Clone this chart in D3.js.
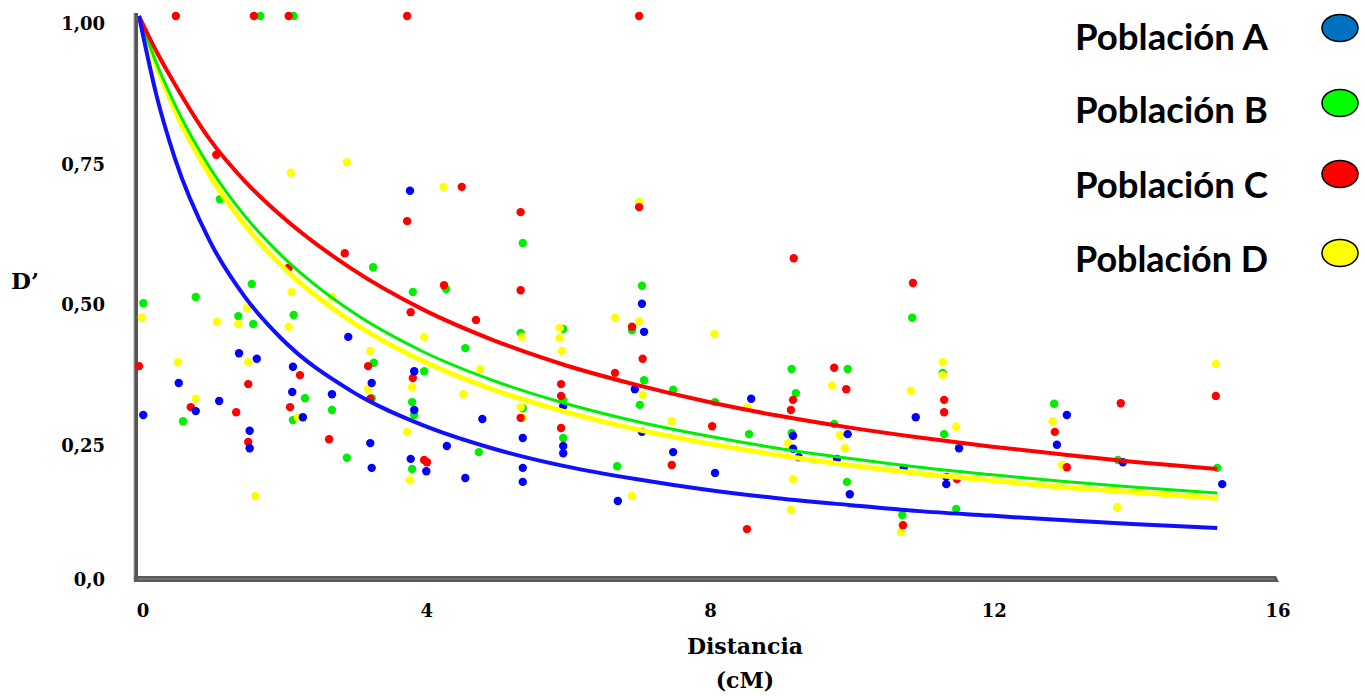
<!DOCTYPE html>
<html>
<head>
<meta charset="utf-8">
<script src="https://cdn.jsdelivr.net/npm/d3@7"></script>
<style>
html,body{margin:0;padding:0;background:#fff;}
svg{display:block;}
</style>
</head>
<body>
<svg id="chart" width="1365" height="696"></svg>
<script>
// ---- data ----
const xTicks = [0, 4, 8, 12, 16];
const xTickLabels = ["0", "4", "8", "12", "16"];
const yTicks = [0, 0.25, 0.5, 0.75, 1];
const yTickLabels = ["0,0", "0,25", "0,50", "0,75", "1,00"];
const seriesNames = ["Población A", "Población B", "Población C", "Población D"];

// [distance cM, D']
const pointsA = [[3.82,0.689],[1.41,0.400],[1.66,0.390],[2.17,0.376],[0.56,0.347],[2.16,0.331],[0.80,0.297],[1.13,0.315],[2.31,0.286],[0.06,0.290],[1.56,0.262],[1.56,0.231],[2.95,0.429],[2.72,0.327],[7.09,0.488],[7.12,0.438],[3.28,0.347],[3.88,0.368],[3.88,0.299],[4.84,0.283],[5.41,0.249],[5.98,0.306],[5.98,0.235],[5.98,0.222],[6.99,0.336],[7.09,0.260],[7.53,0.224],[3.26,0.240],[3.28,0.196],[3.83,0.212],[4.05,0.190],[4.34,0.235],[4.60,0.178],[5.41,0.196],[5.41,0.171],[6.75,0.137],[10.95,0.286],[8.63,0.319],[8.12,0.187],[9.22,0.253],[9.22,0.230],[9.30,0.215],[9.99,0.256],[9.84,0.212],[10.02,0.149],[10.78,0.196],[11.56,0.231],[11.38,0.180],[11.38,0.167],[12.94,0.237],[13.08,0.290],[13.87,0.206],[15.27,0.167]];
const pointsB = [[1.71,1.0],[2.18,1.0],[1.14,0.674],[0.06,0.489],[0.80,0.500],[1.59,0.523],[1.40,0.466],[1.61,0.452],[2.18,0.468],[2.17,0.281],[0.62,0.279],[2.34,0.320],[2.72,0.299],[2.93,0.214],[3.86,0.509],[4.33,0.514],[7.09,0.520],[6.95,0.441],[5.38,0.436],[4.60,0.409],[5.98,0.443],[7.12,0.352],[3.31,0.383],[3.28,0.320],[3.85,0.313],[3.88,0.290],[4.02,0.368],[5.41,0.302],[5.98,0.317],[5.98,0.249],[7.06,0.308],[7.53,0.335],[3.85,0.194],[4.79,0.224],[6.74,0.199],[5.41,0.596],[3.30,0.553],[10.90,0.463],[9.20,0.372],[9.26,0.329],[9.99,0.372],[8.12,0.313],[8.60,0.256],[9.20,0.258],[9.80,0.274],[9.98,0.171],[10.76,0.112],[11.33,0.365],[11.35,0.256],[11.52,0.123],[12.90,0.310],[13.80,0.210],[15.20,0.196]];
const pointsC = [[0.52,1.0],[1.62,1.0],[2.11,1.0],[3.78,1.0],[7.05,1.0],[1.09,0.753],[2.11,0.552],[0.0,0.377],[2.27,0.361],[1.54,0.345],[0.73,0.304],[1.37,0.295],[2.13,0.304],[1.54,0.242],[2.68,0.247],[4.30,0.521],[5.38,0.512],[6.95,0.447],[3.83,0.473],[4.75,0.459],[7.10,0.390],[6.71,0.365],[3.23,0.377],[3.26,0.319],[3.86,0.356],[5.38,0.285],[5.95,0.345],[5.95,0.324],[5.95,0.267],[7.51,0.201],[4.02,0.210],[4.06,0.206],[4.55,0.696],[3.78,0.635],[5.38,0.651],[7.05,0.660],[2.90,0.578],[9.23,0.569],[10.91,0.525],[9.80,0.374],[9.97,0.336],[11.35,0.317],[11.35,0.295],[8.08,0.270],[8.57,0.087],[9.22,0.317],[9.19,0.299],[10.77,0.094],[11.53,0.176],[12.91,0.260],[13.08,0.197],[13.84,0.311],[15.18,0.324]];
const pointsD = [[2.14,0.721],[2.93,0.740],[4.29,0.696],[7.05,0.669],[2.15,0.509],[0.04,0.463],[1.10,0.456],[1.40,0.452],[2.11,0.447],[1.52,0.480],[0.55,0.384],[1.54,0.384],[0.80,0.319],[2.24,0.285],[1.64,0.146],[2.72,0.500],[6.71,0.463],[7.05,0.457],[4.02,0.429],[5.40,0.429],[5.93,0.445],[5.93,0.427],[5.96,0.404],[3.26,0.404],[3.23,0.336],[3.85,0.340],[4.81,0.372],[4.57,0.327],[5.41,0.285],[5.38,0.304],[7.10,0.326],[7.51,0.279],[3.82,0.174],[3.78,0.260],[6.95,0.146],[8.11,0.434],[8.58,0.304],[9.15,0.240],[9.22,0.176],[9.19,0.121],[9.77,0.342],[9.88,0.254],[9.95,0.231],[10.74,0.082],[10.88,0.333],[11.33,0.384],[11.33,0.361],[11.52,0.269],[12.88,0.279],[13.01,0.201],[13.79,0.126],[15.18,0.381]];

// fitted decay curves, read at these distances
const curveDist = [0, 0.25, 0.5, 1, 1.5, 2, 3, 4, 5, 6, 7, 8, 9, 10, 11, 12, 13, 14, 15.2];
const curveA = [1, 0.857, 0.749, 0.599, 0.499, 0.427, 0.332, 0.272, 0.230, 0.199, 0.176, 0.157, 0.142, 0.130, 0.119, 0.111, 0.103, 0.096, 0.089];
const curveB = [1, 0.915, 0.844, 0.730, 0.643, 0.575, 0.474, 0.403, 0.351, 0.311, 0.279, 0.253, 0.231, 0.213, 0.197, 0.184, 0.172, 0.162, 0.151];
const curveC = [1, 0.936, 0.880, 0.780, 0.705, 0.645, 0.550, 0.478, 0.423, 0.379, 0.344, 0.314, 0.289, 0.268, 0.250, 0.234, 0.220, 0.207, 0.194];
const curveD = [1, 0.910, 0.834, 0.716, 0.627, 0.557, 0.456, 0.386, 0.335, 0.296, 0.265, 0.240, 0.219, 0.201, 0.186, 0.174, 0.162, 0.153, 0.142];

// ---- drawing ----
const svg = d3.select("#chart");
const x = d3.scaleLinear().domain([0, 16]).range([139, 1274]);
const y = d3.scaleLinear().domain([0, 1]).range([578, 16]);

const pointColor = {A: "#0000ff", B: "#00ee00", C: "#ff0000", D: "#ffff00"};
const legendColor = ["#0070c0", "#00ff00", "#ff0000", "#ffff00"];

// axes (thick grey bars)
const axisG = svg.append("g");
axisG.append("line").attr("x1", 136).attr("x2", 136).attr("y1", y(1) - 3).attr("y2", y(0) + 3)
  .attr("stroke", "#555").attr("stroke-width", 4);
axisG.append("line").attr("x1", 134).attr("x2", 134).attr("y1", y(1) - 3).attr("y2", y(0) + 3)
  .attr("stroke", "#aaa").attr("stroke-width", 1);
axisG.append("path")
  .attr("d", `M134,${y(0) - 2}L${x(16) + 2},${y(0) - 2}L${x(16) + 5},${y(0) + 4}L134,${y(0) + 4}Z`)
  .attr("fill", "#5a5a5a");
axisG.append("line").attr("x1", 138).attr("x2", x(16)).attr("y1", y(0) + 1).attr("y2", y(0) + 1)
  .attr("stroke", "#888").attr("stroke-width", 1);

// y tick labels
svg.append("g").selectAll("text").data(yTicks).join("text")
  .attr("x", 105)
  .attr("y", (d, i) => y(d) + (d === 0 ? 3 : 9))
  .attr("text-anchor", "end").attr("dominant-baseline", "middle")
  .attr("font-family", "DejaVu Serif").attr("font-weight", "bold").attr("font-size", 18)
  .attr("fill", "#000")
  .text((d, i) => yTickLabels[i]);

// x tick labels
svg.append("g").selectAll("text").data(xTicks).join("text")
  .attr("x", d => x(d) + 4)
  .attr("y", 612)
  .attr("text-anchor", "middle").attr("dominant-baseline", "middle")
  .attr("font-family", "DejaVu Serif").attr("font-weight", "bold").attr("font-size", 18)
  .attr("fill", "#000")
  .text((d, i) => xTickLabels[i]);

// axis titles
svg.append("text").attr("x", 745).attr("y", 648).attr("text-anchor", "middle").attr("dominant-baseline", "middle")
  .attr("font-family", "DejaVu Serif").attr("font-weight", "bold").attr("font-size", 22).text("Distancia");
svg.append("text").attr("x", 745).attr("y", 682).attr("text-anchor", "middle").attr("dominant-baseline", "middle")
  .attr("font-family", "DejaVu Serif").attr("font-weight", "bold").attr("font-size", 22).text("(cM)");
svg.append("text").attr("x", 11).attr("y", 283).attr("dominant-baseline", "middle")
  .attr("font-family", "DejaVu Serif").attr("font-weight", "bold").attr("font-size", 23).text("D’");

// scatter points (draw order green, yellow, red, blue)
const layers = [["B", pointsB], ["D", pointsD], ["C", pointsC], ["A", pointsA]];
layers.forEach(([k, pts]) => {
  svg.append("g").selectAll("circle").data(pts).join("circle")
    .attr("cx", d => x(d[0])).attr("cy", d => y(d[1])).attr("r", 4.2)
    .attr("fill", pointColor[k]);
});

// curves
const line = d3.line().x((d, i) => x(curveDist[i])).y(d => y(d)).curve(d3.curveMonotoneX);
const curves = [[curveD, "#ffff00", 5], [curveB, "#00ee00", 3], [curveC, "#ff0000", 4], [curveA, "#1010ff", 4]];
curves.forEach(([vals, col, w]) => {
  svg.append("path").datum(vals).attr("d", line)
    .attr("fill", "none").attr("stroke", col).attr("stroke-width", w);
});

// legend
const legendBase = [50, 123, 198, 272];
const legendDot = [28, 103, 174, 253];
const lg = svg.append("g");
seriesNames.forEach((name, i) => {
  lg.append("text").attr("x", 1075).attr("y", legendBase[i])
    .attr("font-family", "Lato").attr("font-weight", "bold").attr("font-size", 37)
    .attr("textLength", 193).attr("lengthAdjust", "spacingAndGlyphs")
    .attr("fill", "#000").text(name);
  lg.append("ellipse").attr("cx", 1340).attr("cy", legendDot[i]).attr("rx", 18).attr("ry", 13.5)
    .attr("fill", legendColor[i]).attr("stroke", "#000").attr("stroke-width", 1.5);
});
</script>
</body>
</html>
